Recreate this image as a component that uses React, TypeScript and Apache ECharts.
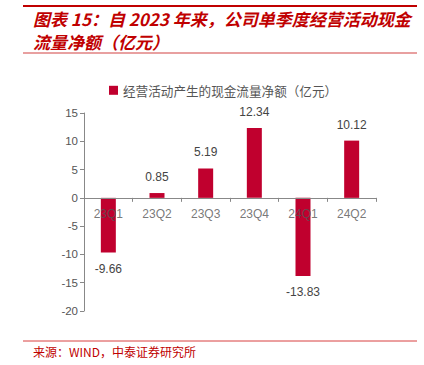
import React, { useEffect, useRef } from "react";
import * as echarts from "echarts";

const categories = ["23Q1", "23Q2", "23Q3", "23Q4", "24Q1", "24Q2"];
const values = [-9.66, 0.85, 5.19, 12.34, -13.83, 10.12];
const seriesName = "经营活动产生的现金流量净额（亿元）";
const titleLine1 = "图表 15：自 2023 年来，公司单季度经营活动现金";
const titleLine2 = "流量净额（亿元）";
const sourceText = "来源：WIND，中泰证券研究所";

export default function App() {
  const ref = useRef<HTMLDivElement>(null);
  useEffect(() => {
    if (!ref.current) return;
    const chart = echarts.init(ref.current, undefined, { renderer: "svg" });
    const fontCJK = "'Noto Sans CJK SC', 'Noto Sans', sans-serif";
    const fontLatin = "Arial, 'Liberation Sans', sans-serif";
    chart.setOption({
      animation: false,
      backgroundColor: "#fff",
      textStyle: { fontFamily: fontCJK },
      legend: {
        top: 79,
        left: 104,
        itemWidth: 9,
        itemHeight: 9,
        itemGap: 4,
        icon: "rect",
        textStyle: { color: "#555", fontSize: 12.6, fontFamily: fontCJK },
        data: [seriesName],
      },
      grid: { left: 84, right: 48, top: 113, bottom: 54, containLabel: false },
      xAxis: {
        type: "category",
        data: categories,
        axisLine: { onZero: true, lineStyle: { color: "#888", width: 1 } },
        axisTick: { show: true, length: 4, lineStyle: { color: "#888" } },
        axisLabel: { show: false },
        z: 10,
      },
      yAxis: {
        type: "value",
        min: -20,
        max: 15,
        interval: 5,
        splitLine: { show: false },
        axisLine: { show: true, lineStyle: { color: "#888", width: 1 } },
        axisTick: { show: true, length: 4, lineStyle: { color: "#888" } },
        axisLabel: { color: "#555", fontSize: 11.5, margin: 6, fontFamily: fontLatin },
      },
      series: [
        {
          name: seriesName,
          type: "bar",
          data: values.map((v) => ({
            value: v,
            label: { position: v >= 0 ? "top" : "bottom" },
          })),
          barWidth: 15,
          itemStyle: { color: "#C0002E" },
          label: {
            show: true,
            color: "#444",
            fontSize: 12,
            distance: 10,
            fontFamily: fontLatin,
            formatter: (p: any) => String(p.value),
          },
        },
        {
          name: "categoryLabels",
          type: "scatter",
          data: categories.map(() => 0),
          symbolSize: 0,
          silent: true,
          z: 20,
          label: {
            show: true,
            position: "bottom",
            distance: 10,
            color: "#555",
            fontSize: 12,
            fontFamily: fontLatin,
            formatter: (p: any) => categories[p.dataIndex],
          },
        },
      ],
      graphic: [
        { type: "line", shape: { x1: 23, y1: 6, x2: 417, y2: 6 }, style: { stroke: "#C00000", lineWidth: 2 } },
        {
          type: "text",
          left: 33,
          top: 10,
          style: {
            text: titleLine1,
            fill: "#C00000",
            font: `italic bold 17px ${fontCJK}`,
          },
        },
        {
          type: "text",
          left: 33,
          top: 33,
          style: {
            text: titleLine2,
            fill: "#C00000",
            font: `italic bold 17px ${fontCJK}`,
          },
        },
        { type: "line", shape: { x1: 23, y1: 53, x2: 417, y2: 53 }, style: { stroke: "#E8A0A0", lineWidth: 2 } },
        { type: "line", shape: { x1: 23, y1: 341, x2: 417, y2: 341 }, style: { stroke: "#D84040", lineWidth: 1 } },
        {
          type: "text",
          left: 33,
          top: 345,
          style: { text: sourceText, fill: "#C00000", font: `12px ${fontCJK}` },
        },
      ],
    });
    return () => chart.dispose();
  }, []);
  return <div ref={ref} style={{ width: 424, height: 365, position: "fixed", left: 0, top: 0 }} />;
}
